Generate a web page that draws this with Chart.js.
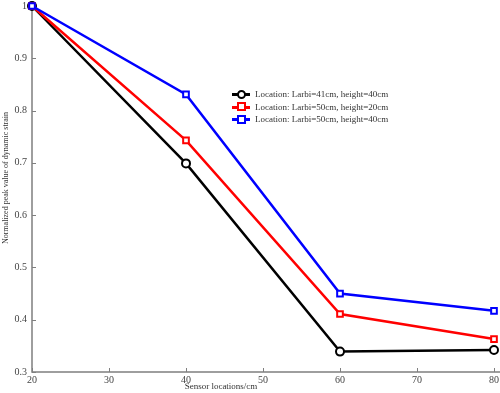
<!DOCTYPE html>
<html>
<head>
<meta charset="utf-8">
<script src="https://cdn.jsdelivr.net/npm/chart.js@4/dist/chart.umd.min.js"></script>
<style>
html,body{margin:0;padding:0;background:#fff;}
#wrap{position:relative;width:500px;height:393px;}
#legend{position:absolute;left:232px;top:88px;font-family:"Liberation Serif",serif;font-size:9px;color:#333;}
.row{position:relative;height:12.5px;line-height:12.5px;white-space:nowrap;}
.ln{position:absolute;left:0;top:5px;width:18px;height:3px;}
.mk{position:absolute;left:5px;top:2.5px;width:5px;height:5px;background:#fff;border:2px solid;box-sizing:content-box;}
.tx{position:absolute;left:23px;top:0;}
</style>
</head>
<body>
<div id="wrap">
<canvas id="c" width="500" height="393"></canvas>
<div id="legend"></div>
</div>
<script>
const sensorLocations = [20, 40, 60, 80];
const seriesLabels = [
  "Location: Larbi=41cm, height=40cm",
  "Location: Larbi=50cm, height=20cm",
  "Location: Larbi=50cm, height=40cm"
];
const larbi41h40 = [1.0, 0.699, 0.339, 0.342];
const larbi50h20 = [1.0, 0.743, 0.411, 0.363];
const larbi50h40 = [1.0, 0.831, 0.450, 0.417];
const xTicks = [20, 30, 40, 50, 60, 70, 80];
const yTicks = [0.3, 0.4, 0.5, 0.6, 0.7, 0.8, 0.9, 1.0];
const xTitle = "Sensor locations/cm";
const yTitle = "Normalized peak value of dynamic strain";

const colors = ["#000000", "#ff0000", "#0000ff"];
const styles = ["circle", "rect", "rect"];
const seriesValues = [larbi41h40, larbi50h20, larbi50h40];

const datasets = seriesValues.map((vals, i) => ({
  label: seriesLabels[i],
  data: sensorLocations.map((x, j) => ({x: x, y: vals[j]})),
  borderColor: colors[i],
  backgroundColor: "#ffffff",
  borderWidth: 2.5,
  pointStyle: styles[i],
  pointRadius: 4,
  pointBorderWidth: 2,
  pointBackgroundColor: "#ffffff",
  pointBorderColor: colors[i],
  tension: 0,
  clip: false,
  order: 3 - i
}));

// legend (HTML)
const lg = document.getElementById('legend');
seriesLabels.forEach((lab, i) => {
  const r = document.createElement('div'); r.className = 'row';
  const ln = document.createElement('div'); ln.className = 'ln'; ln.style.background = colors[i];
  const mk = document.createElement('div'); mk.className = 'mk'; mk.style.borderColor = colors[i];
  mk.style.top = '1.5px'; mk.style.left = '5px';
  if (styles[i] === 'circle') mk.style.borderRadius = '50%';
  const tx = document.createElement('span'); tx.className = 'tx'; tx.textContent = lab;
  r.appendChild(ln); r.appendChild(mk); r.appendChild(tx); lg.appendChild(r);
});

const FONT = "'Liberation Serif', serif";

const decor = {
  id: 'decor',
  beforeDatasetsDraw(chart) {
    const ctx = chart.ctx;
    const xs = chart.scales.x, ys = chart.scales.y;
    const a = chart.chartArea;
    ctx.save();
    ctx.strokeStyle = '#7f7f7f';
    ctx.lineWidth = 1.5;
    ctx.beginPath();
    ctx.moveTo(a.left, a.top);
    ctx.lineTo(a.left, a.bottom);
    ctx.lineTo(a.right + 6, a.bottom);
    ctx.stroke();
    ctx.lineWidth = 1;
    ctx.beginPath();
    xTicks.forEach(v => {
      const px = Math.round(xs.getPixelForValue(v)) + 0.5;
      ctx.moveTo(px, a.bottom); ctx.lineTo(px, a.bottom - 4);
    });
    yTicks.forEach(v => {
      const py = Math.round(ys.getPixelForValue(v)) + 0.5;
      ctx.moveTo(a.left, py); ctx.lineTo(a.left + 4, py);
    });
    ctx.stroke();
    ctx.fillStyle = '#333';
    ctx.font = "9px " + FONT;
    ctx.textAlign = 'center';
    ctx.textBaseline = 'middle';
    ctx.fillText(xTitle, 221, 387);
    ctx.translate(6, 178);
    ctx.rotate(-Math.PI / 2);
    ctx.font = "8px " + FONT;
    ctx.fillText(yTitle, 0, 0);
    ctx.restore();
  }
};

new Chart(document.getElementById('c'), {
  type: 'line',
  data: { datasets },
  options: {
    responsive: false,
    animation: false,
    layout: { padding: { top: 4, right: 5, left: 0, bottom: 0 } },
    plugins: { legend: { display: false }, tooltip: { enabled: false } },
    scales: {
      x: {
        type: 'linear', min: 20, max: 80,
        afterFit(s) { s.height = 21; s.paddingLeft = 0; s.paddingRight = 0; },
        afterBuildTicks(s) { s.ticks = xTicks.map(v => ({value: v})); },
        grid: { display: false, drawTicks: false },
        border: { display: false },
        ticks: { color: '#444', font: { family: FONT, size: 10 }, padding: 2, maxRotation: 0, autoSkip: false }
      },
      y: {
        type: 'linear', min: 0.3, max: 1.0,
        afterFit(s) { s.width = 32; s.paddingTop = 0; s.paddingBottom = 0; },
        afterBuildTicks(s) { s.ticks = yTicks.map(v => ({value: v})); },
        grid: { display: false, drawTicks: false },
        border: { display: false },
        ticks: { color: '#444', font: { family: FONT, size: 10 }, padding: 5,
          callback: v => (Math.round(v * 10) / 10).toString() }
      }
    }
  },
  plugins: [decor]
});
</script>
</body>
</html>
